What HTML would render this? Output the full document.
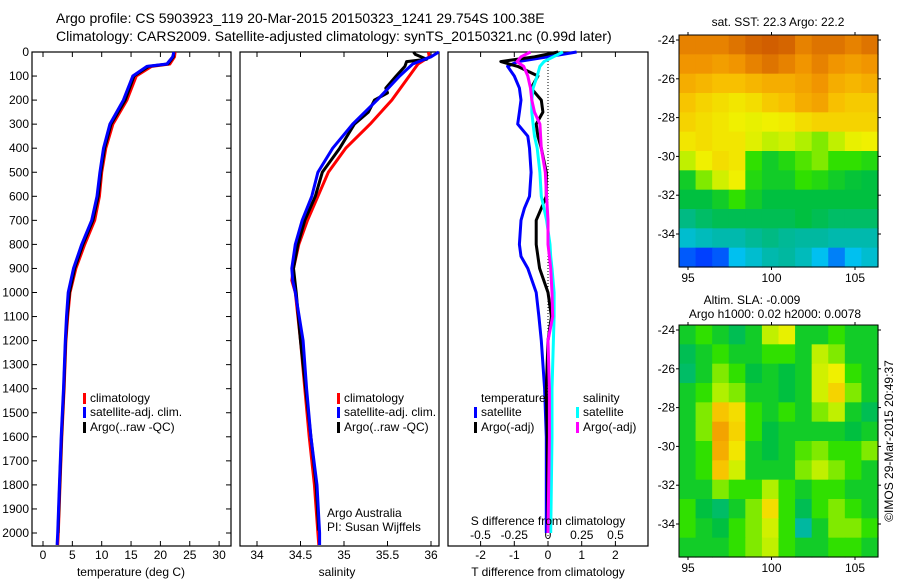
<!DOCTYPE html>
<html><head><meta charset="utf-8"><style>
html,body{margin:0;padding:0;background:#fff;}
svg{display:block;font-family:"Liberation Sans",Arial,sans-serif;}
</style></head><body>
<svg id="fig" width="900" height="580" viewBox="0 0 900 580" xmlns="http://www.w3.org/2000/svg">
<text x="56" y="23" font-size="14">Argo profile: CS 5903923_119 20-Mar-2015 20150323_1241 29.754S 100.38E</text>
<text x="56" y="41" font-size="14">Climatology: CARS2009. Satellite-adjusted climatology: synTS_20150321.nc (0.99d later)</text>
<g id="g"></g>
</svg>
<script>
// ---- Data ----
const depthT = [0,20,50,60,100,200,300,400,500,600,700,800,900,1000,1100,1200,1400,1600,1800,2000,2050];
const tempClim = [22.5,22.4,21.6,18.5,15.9,14.3,11.9,10.7,10.0,9.6,8.8,7.1,5.6,4.6,4.2,3.9,3.6,3.2,2.9,2.6,2.5];
const tempSat  = [22.3,22.1,21.1,17.7,15.3,13.7,11.4,10.3,9.7,9.2,8.3,6.6,5.2,4.3,4.0,3.8,3.5,3.1,2.8,2.5,2.4];
const tempArgo = [22.3,22.2,21.3,18.0,15.5,14.0,11.6,10.5,9.85,9.4,8.5,6.8,5.4,4.5,4.1,3.85,3.55,3.15,2.85,2.55];
const depthS = [0,20,50,100,200,300,400,500,600,700,800,900,950,1000,1200,1400,1600,1800,2000,2050];
const salClim = [35.97,35.98,35.85,35.75,35.55,35.3,35.02,34.82,34.7,34.58,34.48,34.42,34.4,34.44,34.5,34.55,34.6,34.66,34.7,34.71];
const salSat  = [36.09,36.0,35.79,35.64,35.38,35.1,34.87,34.7,34.63,34.52,34.44,34.4,34.41,34.44,34.53,34.57,34.62,34.69,34.72,34.72];
const depthSA = [0,10,30,40,60,100,150,170,200,250,300,400,500,600,700,800,900,1000,1200,1400,1600,1800,1990];
const salArgo = [35.8,35.82,35.95,35.72,35.7,35.6,35.48,35.5,35.35,35.28,35.12,34.95,34.75,34.67,34.55,34.47,34.42,34.45,34.5,34.56,34.62,34.68,34.71];
const depthD = [0,20,40,60,100,150,200,250,300,350,400,500,600,650,700,800,850,900,1000,1100,1200,1400,1600,2000];
const dTsat  = [0.85,0.0,-0.9,-1.2,-1.0,-0.85,-0.8,-0.85,-0.9,-0.6,-0.55,-0.5,-0.55,-0.7,-0.8,-0.85,-0.8,-0.6,-0.35,-0.27,-0.2,-0.1,-0.05,-0.05];
const dTargo = [0.3,-0.4,-1.4,-0.9,-0.3,-0.5,-0.2,-0.15,-0.35,-0.3,-0.2,-0.05,-0.05,-0.2,-0.35,-0.35,-0.3,-0.25,0.0,0.1,0.0,-0.05,-0.02,0.0];
const dSsat  = [0.11,0.04,-0.03,-0.06,-0.08,-0.11,-0.12,-0.12,-0.11,-0.1,-0.08,-0.06,-0.05,-0.03,-0.01,0.015,0.02,0.03,0.045,0.045,0.04,0.03,0.03,0.02];
const dSargo = [-0.13,-0.2,-0.23,-0.18,-0.15,-0.13,-0.12,-0.1,-0.06,-0.055,-0.05,-0.02,-0.01,-0.005,0.0,0.0,0.01,0.02,0.03,0.035,0.0,0.01,0.01,0.0];
const depthTicks = [0,100,200,300,400,500,600,700,800,900,1000,1100,1200,1300,1400,1500,1600,1700,1800,1900,2000];
const tempTicks = [0,5,10,15,20,25,30];
const salTicks = [34,34.5,35,35.5,36];
const salTickLabels = ["34","34.5","35","35.5","36"];
const dTTicks = [-2,-1,0,1,2];
const dSTicks = [-0.5,-0.25,0,0.25,0.5];
const dSTickLabels = ["-0.5","-0.25","0","0.25","0.5"];
const latTicks = [-24,-26,-28,-30,-32,-34];
const lonTicks = [95,100,105];
const sstGrid = [
[0.88,0.88,0.88,0.9,0.92,0.93,0.92,0.88,0.9,0.9,0.88,0.9],
[0.85,0.85,0.83,0.85,0.88,0.9,0.88,0.85,0.88,0.85,0.83,0.85],
[0.8,0.78,0.76,0.76,0.78,0.8,0.8,0.82,0.85,0.8,0.78,0.8],
[0.75,0.72,0.7,0.68,0.7,0.74,0.76,0.8,0.82,0.76,0.74,0.74],
[0.72,0.7,0.68,0.66,0.65,0.66,0.67,0.7,0.72,0.72,0.72,0.72],
[0.68,0.7,0.68,0.68,0.64,0.6,0.62,0.58,0.55,0.6,0.65,0.66],
[0.6,0.66,0.7,0.68,0.5,0.45,0.48,0.52,0.55,0.5,0.5,0.48],
[0.45,0.55,0.62,0.66,0.48,0.45,0.45,0.5,0.48,0.45,0.43,0.42],
[0.42,0.42,0.45,0.5,0.45,0.42,0.42,0.42,0.42,0.42,0.42,0.42],
[0.35,0.38,0.4,0.4,0.4,0.4,0.4,0.42,0.4,0.38,0.38,0.38],
[0.25,0.28,0.3,0.3,0.33,0.35,0.33,0.32,0.32,0.3,0.3,0.3],
[0.12,0.1,0.12,0.2,0.25,0.3,0.32,0.28,0.2,0.15,0.2,0.25]];
const slaGrid = [
[0.45,0.5,0.45,0.4,0.45,0.6,0.65,0.45,0.45,0.5,0.45,0.45],
[0.4,0.45,0.5,0.45,0.45,0.5,0.5,0.45,0.6,0.55,0.45,0.45],
[0.38,0.45,0.55,0.5,0.42,0.45,0.42,0.45,0.62,0.66,0.5,0.45],
[0.45,0.5,0.58,0.55,0.45,0.45,0.42,0.45,0.62,0.72,0.55,0.45],
[0.45,0.55,0.75,0.7,0.5,0.45,0.5,0.45,0.55,0.6,0.45,0.4],
[0.45,0.55,0.82,0.72,0.5,0.42,0.45,0.45,0.45,0.45,0.42,0.45],
[0.45,0.5,0.8,0.68,0.45,0.42,0.45,0.52,0.55,0.5,0.5,0.55],
[0.45,0.5,0.75,0.62,0.45,0.45,0.45,0.55,0.6,0.55,0.5,0.45],
[0.45,0.45,0.55,0.5,0.5,0.58,0.5,0.45,0.5,0.5,0.45,0.45],
[0.5,0.42,0.38,0.45,0.55,0.7,0.5,0.4,0.5,0.55,0.5,0.45],
[0.5,0.45,0.42,0.5,0.55,0.62,0.5,0.32,0.45,0.55,0.55,0.5],
[0.45,0.45,0.45,0.5,0.55,0.6,0.5,0.45,0.45,0.5,0.5,0.45]];

// ---- Helpers ----
const NS="http://www.w3.org/2000/svg";
const root=document.getElementById('g');
function mk(tag,attrs,parent){const e=document.createElementNS(NS,tag);for(const k in attrs)e.setAttribute(k,attrs[k]);(parent||root).appendChild(e);return e;}
const TOP=52,BOT=546;
const yD=d=>52+d*0.24050;
const xT=t=>43+t*5.87;
const xS=s=>257+(s-34)*87;
const xDT=t=>548+t*33.7;
const xDS=s=>548+s*135;

function frame(x0,x1,name){
  const r=mk('rect',{x:x0,y:TOP,width:x1-x0,height:BOT-TOP,fill:'none',stroke:'#000','stroke-width':1.2});
  
  
}
function line(xs,ys,xf,col,name){
  let p=xs.map((v,i)=>(i?'L':'M')+xf(v).toFixed(1)+' '+yD(ys[i]).toFixed(1)).join(' ');
  const e=mk('path',{d:p,fill:'none',stroke:col,'stroke-width':3,'stroke-linejoin':'round'});
  
  
}
function txt(x,y,s,opt,name){
  const e=mk('text',Object.assign({x:x,y:y,'font-size':12},opt||{}));
  e.textContent=s;
  
  
  return e;
}
function legend(x,y,col,label,name){
  const r=mk('rect',{x:x,y:y-9,width:3,height:11,fill:col});
  
  
  txt(x+7,y,label,{},name);
}

// ---- Panel 1: temperature ----
frame(32,231,'temperature-panel');
depthTicks.forEach(d=>{
  mk('line',{x1:32,x2:37,y1:yD(d),y2:yD(d),stroke:'#000'});
  mk('line',{x1:226,x2:231,y1:yD(d),y2:yD(d),stroke:'#000'});
  txt(29,yD(d)+4,String(d),{'text-anchor':'end'},'depth-tick-label');
});
tempTicks.forEach(t=>{
  mk('line',{x1:xT(t),x2:xT(t),y1:BOT,y2:BOT-5,stroke:'#000'});
  mk('line',{x1:xT(t),x2:xT(t),y1:TOP,y2:TOP+5,stroke:'#000'});
  txt(xT(t),559,String(t),{'text-anchor':'middle'},'temperature-tick-label');
});
line(tempClim,depthT,xT,'#f00','temperature-climatology-line');
line(tempArgo,depthT.slice(0,tempArgo.length),xT,'#000','temperature-argo-line');
line(tempSat,depthT,xT,'#00f','temperature-satellite-line');
txt(131,576,'temperature (deg C)',{'text-anchor':'middle'},'temperature-axis-title');
legend(83,402,'#f00','climatology','legend-climatology');
legend(83,416,'#00f','satellite-adj. clim.','legend-satellite-adj');
legend(83,431,'#000','Argo(..raw -QC)','legend-argo');

// ---- Panel 2: salinity ----
frame(240,439,'salinity-panel');
salTicks.forEach((s,i)=>{
  mk('line',{x1:xS(s),x2:xS(s),y1:BOT,y2:BOT-5,stroke:'#000'});
  mk('line',{x1:xS(s),x2:xS(s),y1:TOP,y2:TOP+5,stroke:'#000'});
  txt(xS(s),559,salTickLabels[i],{'text-anchor':'middle'},'salinity-tick-label');
});
line(salClim,depthS,xS,'#f00','salinity-climatology-line');
line(salArgo,depthSA,xS,'#000','salinity-argo-line');
line(salSat,depthS,xS,'#00f','salinity-satellite-line');
txt(337,576,'salinity',{'text-anchor':'middle'},'salinity-axis-title');
legend(337,402,'#f00','climatology','legend-climatology-2');
legend(337,416,'#00f','satellite-adj. clim.','legend-satellite-adj-2');
legend(337,431,'#000','Argo(..raw -QC)','legend-argo-2');
txt(327,517,'Argo Australia',{},'institution-label');
txt(327,531,'PI: Susan Wijffels',{},'pi-label');

// ---- Panel 3: differences ----
frame(448,648,'difference-panel');
mk('line',{x1:548,x2:548,y1:TOP,y2:BOT,stroke:'#000','stroke-dasharray':'1,2'});
dTTicks.forEach(t=>{
  mk('line',{x1:xDT(t),x2:xDT(t),y1:BOT,y2:BOT-5,stroke:'#000'});
  mk('line',{x1:xDT(t),x2:xDT(t),y1:TOP,y2:TOP+5,stroke:'#000'});
  txt(xDT(t),559,String(t),{'text-anchor':'middle'},'t-diff-tick-label');
});
dSTicks.forEach((s,i)=>{
  txt(xDS(s),539,dSTickLabels[i],{'text-anchor':'middle'},'s-diff-tick-label');
});
line(dTsat,depthD,xDT,'#00f','t-diff-satellite-line');
line(dTargo,depthD,xDT,'#000','t-diff-argo-line');
line(dSsat,depthD,xDS,'#0ff','s-diff-satellite-line');
line(dSargo,depthD,xDS,'#f0f','s-diff-argo-line');
txt(548,576,'T difference from climatology',{'text-anchor':'middle'},'t-diff-axis-title');
txt(548,525,'S difference from climatology',{'text-anchor':'middle'},'s-diff-axis-title');
txt(481,402,'temperature',{},'legend-temperature-heading');
txt(583,402,'salinity',{},'legend-salinity-heading');
legend(474,416,'#00f','satellite','legend-t-satellite');
legend(474,431,'#000','Argo(-adj)','legend-t-argo');
legend(576,416,'#0ff','satellite','legend-s-satellite');
legend(576,431,'#f0f','Argo(-adj)','legend-s-argo');

// ---- Maps ----
const stops=[[0,[0,0,144]],[0.1,[0,64,255]],[0.2,[0,192,240]],[0.32,[0,184,160]],[0.42,[0,192,64]],[0.5,[48,224,0]],[0.58,[176,240,0]],[0.66,[240,240,0]],[0.76,[248,192,0]],[0.86,[240,144,0]],[0.95,[200,80,0]],[1,[160,48,0]]];
function cmap(v){
  for(let i=1;i<stops.length;i++){if(v<=stops[i][0]){const a=stops[i-1],b=stops[i],f=(v-a[0])/(b[0]-a[0]);
    const c=a[1].map((x,k)=>Math.round(x+(b[1][k]-x)*f));return `rgb(${c[0]},${c[1]},${c[2]})`;}}
  return 'rgb(160,48,0)';
}
function map(grid,y0,name){
  const x0=679,x1=878,y1=y0+232;
  const lonX=l=>688+(l-95)*16.7;
  const latY=l=>(y0+5)+(-24-l)*19.4;
  const rows=grid.length,cols=grid[0].length,cw=(x1-x0)/cols,ch=(y1-y0)/rows;
  grid.forEach((row,r)=>row.forEach((v,c)=>{
    const e=mk('rect',{x:(x0+c*cw).toFixed(2),y:(y0+r*ch).toFixed(2),width:(cw+0.6).toFixed(2),height:(ch+0.6).toFixed(2),fill:cmap(v)});
    
    
  }));
  const f=mk('rect',{x:x0,y:y0,width:x1-x0,height:y1-y0,fill:'none',stroke:'#000'});
  
  
  latTicks.forEach(l=>{
    mk('line',{x1:x0-3,x2:x0,y1:latY(l),y2:latY(l),stroke:'#000'});
    mk('line',{x1:x1,x2:x1+3,y1:latY(l),y2:latY(l),stroke:'#000'});
    txt(675,latY(l)+4,String(l),{'text-anchor':'end'},name+'-lat-label');
  });
  lonTicks.forEach(l=>{
    mk('line',{x1:lonX(l),x2:lonX(l),y1:y0-3,y2:y0,stroke:'#000'});
    mk('line',{x1:lonX(l),x2:lonX(l),y1:y1,y2:y1+3,stroke:'#000'});
    txt(lonX(l),y1+15,String(l),{'text-anchor':'middle'},name+'-lon-label');
  });
}
map(sstGrid,35,'sst-map');
map(slaGrid,325,'sla-map');
txt(778,26,'sat. SST: 22.3 Argo: 22.2',{'text-anchor':'middle'},'sst-map-title');
txt(752,304,'Altim. SLA: -0.009',{'text-anchor':'middle'},'sla-map-title');
txt(775,318,'Argo h1000: 0.02 h2000: 0.0078',{'text-anchor':'middle'},'sla-map-subtitle');
txt(0,0,'©IMOS 29-Mar-2015 20:49:37',{'text-anchor':'middle',transform:'translate(893,441) rotate(-90)'},'imos-stamp');
</script>
</body></html>
